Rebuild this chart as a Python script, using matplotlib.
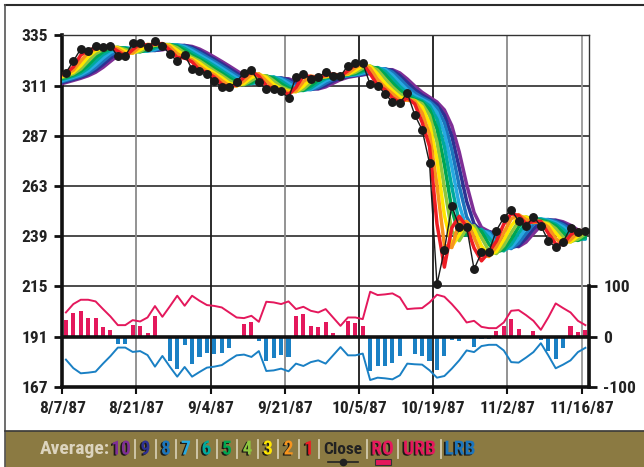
import numpy as np
import matplotlib
matplotlib.use('Agg')
import matplotlib.pyplot as plt
import matplotlib.patheffects as pe
from matplotlib import font_manager as fm
from matplotlib.colors import LinearSegmentedColormap

# ---------------- data ----------------
DATE_LABELS = ['8/7/87', '8/21/87', '9/4/87', '9/21/87', '10/5/87', '10/19/87', '11/2/87', '11/16/87']
DATE_IDX = [0, 10, 20, 30, 40, 50, 60, 70]

CLOSE = [317.2, 322.7, 328.6, 327.6, 330.2, 329.4, 329.9, 325.1, 325.2, 331.2,
         331.2, 329.4, 332.4, 329.9, 326.2, 322.7, 325.9, 318.8, 318.0, 316.8,
         313.3, 310.2, 310.2, 312.9, 317.1, 318.5, 312.6, 309.2, 309.2, 308.3,
         305.1, 315.2, 316.4, 314.4, 315.0, 317.6, 315.6, 315.6, 320.6, 321.7,
         321.7, 311.6, 311.0, 307.2, 303.2, 302.7, 307.5, 297.1, 289.9, 273.9,
         216.0, 232.4, 253.5, 243.5, 243.5, 223.2, 231.2, 231.5, 241.7, 247.8,
         251.6, 246.3, 243.7, 248.3, 243.9, 236.9, 233.6, 236.3, 243.0, 240.9, 241.5]

# state of close and of averages 1..10 on the session before 8/7/87 (read at left edge)
PRIOR_STATE = [316.5, 316.0, 315.5, 315.0, 314.5, 314.0, 313.5, 313.0, 312.5, 312.0, 311.5]

RO = [32.7, 46.7, 50.7, 36.0, 36.0, 18.0, 12.7, -15.3, -15.3, 22.7,
      20.7, 6.7, 40.7, -2.0, -48.7, -64.0, -16.7, -55.3, -40.7, -33.3,
      -35.3, -32.7, -23.3, -2.0, 24.0, 29.3, -8.7, -48.7, -43.3, -37.3,
      -41.3, 40.7, 44.7, 20.7, 18.7, 29.3, 6.7, 1.0, 30.7, 26.7,
      20.7, -68.7, -58.7, -58.7, -53.3, -38.7, -2.0, -34.7, -38.7, -48.7,
      -66.7, -38.7, -6.7, -8.7, -2.0, -20.7, -5.3, -4.0, 10.7, 20.7,
      34.7, 14.7, -1.0, 10.7, -6.7, -28.7, -44.7, -23.3, 20.7, 8.7, 12.7]

URB = [48.0, 64.7, 73.3, 73.3, 70.0, 54.7, 40.0, 22.7, 22.7, 32.7,
       30.0, 38.0, 60.7, 39.3, 60.0, 81.3, 61.3, 81.3, 71.3, 62.7,
       61.0, 58.0, 48.0, 38.0, 36.7, 41.3, 29.3, 69.3, 68.0, 64.7,
       70.0, 54.7, 59.3, 51.3, 48.0, 54.7, 38.0, 21.3, 38.0, 38.0,
       34.7, 89.3, 82.7, 84.0, 86.0, 78.0, 54.7, 56.0, 56.7, 68.0,
       83.3, 79.3, 64.7, 48.0, 28.0, 31.3, 19.3, 16.7, 16.7, 28.0,
       51.3, 52.7, 42.7, 31.3, 13.3, 38.0, 66.0, 56.7, 48.0, 31.3, 22.7]

LRB = [-46.0, -63.0, -73.3, -72.0, -70.0, -54.0, -39.0, -22.0, -22.0, -30.7,
       -29.0, -37.0, -60.0, -38.7, -60.0, -80.0, -60.7, -80.0, -70.7, -62.0,
       -60.0, -57.0, -47.0, -37.5, -36.0, -40.7, -29.0, -68.7, -67.5, -64.0,
       -69.3, -54.0, -58.7, -51.0, -47.5, -54.0, -37.5, -21.0, -37.5, -37.5,
       -34.0, -86.7, -82.0, -83.3, -85.3, -77.3, -54.0, -55.3, -56.0, -67.3,
       -82.0, -78.7, -64.0, -47.5, -27.7, -31.0, -19.0, -16.5, -16.5, -27.7,
       -51.0, -52.0, -42.0, -31.0, -13.3, -37.5, -63.3, -56.0, -47.5, -31.0, -22.5]

LEFT_TICKS = [335, 311, 287, 263, 239, 215, 191, 167]
RIGHT_TICKS = [-100, 0, 100]
LEGEND_NUMS = ['10', '9', '8', '7', '6', '5', '4', '3', '2', '1']

# ---------------- styles ----------------
AVG_COLORS = ['#ED1C24', '#F7941D', '#FFE600', '#8DC63F', '#00A651',
              '#00A99D', '#27AAE1', '#1C75BC', '#2E3192', '#7F2F96']
RED = '#E4185C'
BLUE = '#1A80C4'


def _has(fam):
    try:
        fm.findfont(fm.FontProperties(family=fam, weight='bold'), fallback_to_default=False)
        return True
    except Exception:
        return False


NARROW = None
for cand in ['Liberation Sans Narrow', 'Roboto Condensed', 'DejaVu Sans Condensed',
             'Open Sans Condensed', 'Noto Sans Condensed']:
    if _has(cand):
        NARROW = cand
        break
if NARROW:
    FONT = [NARROW, 'DejaVu Sans']
    TSIZE, LSIZE = 12.5, 14
else:
    FONT = ['Liberation Sans', 'DejaVu Sans']
    TSIZE, LSIZE = 11, 11.5

W, H = 644, 467
fig = plt.figure(figsize=(W / 100, H / 100), dpi=100)

# background
bg = fig.add_axes([0, 0, 1, 1], zorder=-10)
bg.set_xlim(0, W)
bg.set_ylim(H, 0)
bg.axis('off')
bg.add_patch(plt.Rectangle((0, 0), W, H, color='white'))
stops = [(0.0, '#1590CD'), (0.07, '#1A91CD'), (0.18, '#3A99D2'), (0.37, '#6DA9DA'),
         (0.58, '#95BDE1'), (0.77, '#B8D2EC'), (0.95, '#DAE6F4'), (1.0, '#E9EFF9')]
cmap = LinearSegmentedColormap.from_list('bgrad', stops)
grad = np.linspace(0, 1, 400).reshape(-1, 1)
bg.imshow(grad, cmap=cmap, aspect='auto', extent=[5, W, 431, 5], interpolation='bilinear')
bg.add_patch(plt.Rectangle((5, 431), W - 5, H - 431, color='#8B7A42'))
bg.plot([5, W], [5, 5], color='#2b2b2b', lw=1.5)
bg.plot([5, 5], [5, H], color='#555555', lw=1.2)
bg.plot([5, W], [431, 431], color='#3a3a3a', lw=1.2)

# main axes
L, R, T, B = 62.2, 589.5, 35.5, 386.7
ax = fig.add_axes([L / W, 1 - B / H, (R - L) / W, (B - T) / H])
ax.set_facecolor('white')
n = len(CLOSE)
xs = np.arange(n) + 0.5
ax.set_xlim(0, (R - L) / 7.421)
ax.set_ylim(167, 335)

# grid
for yv in LEFT_TICKS[1:-2]:
    ax.axhline(yv, color='#1a1a1a', lw=1.1, zorder=1)
vcols = ['#1a1a1a', '#8a8a8a', '#1a1a1a', '#8a8a8a', '#1a1a1a', '#1a1a1a', '#8a8a8a', '#9a9a9a']
for xi, c in zip(DATE_IDX[1:], vcols[1:]):
    ax.axvline(xi, color=c, lw=1.3, zorder=1)

# rainbow averages (recursive 2-period averages of close)
series = [np.array([PRIOR_STATE[0]] + CLOSE, float)]
for k in range(1, 11):
    prev = series[-1]
    a = np.empty(n + 1)
    a[0] = PRIOR_STATE[k]
    a[1:] = (prev[1:] + prev[:-1]) / 2.0
    series.append(a)
xa = np.arange(-1, n) + 0.5
for k in range(10, 0, -1):
    ax.plot(xa, series[k], color=AVG_COLORS[k - 1], lw=2.5, solid_joinstyle='round',
            solid_capstyle='round', zorder=3)

ax.plot(xs, CLOSE, color='#1a1a1a', lw=1.0, zorder=4)
ax.plot(xs, CLOSE, 'o', color='#1a1a1a', ms=5.4, zorder=5)

# oscillator on right scale
ax2 = ax.twinx()
ax2.set_ylim(-100, 600)
ro = np.array(RO)
ax2.bar(xs, ro, width=0.55, color=np.where(ro >= 0, RED, BLUE), zorder=3)
ax2.plot(xs, URB, color=RED, lw=1.4, zorder=4)
ax2.plot(xs, LRB, color=BLUE, lw=1.4, zorder=4)
ax2.axhline(0, color='#111111', lw=2.6, zorder=5)

# spines
for s in ['top', 'right']:
    ax.spines[s].set_color('#333333')
    ax.spines[s].set_linewidth(1.0)
for s in ['left', 'bottom']:
    ax.spines[s].set_color('#111111')
    ax.spines[s].set_linewidth(2.6)
for s in ['top', 'left', 'bottom']:
    ax2.spines[s].set_visible(False)
ax2.spines['right'].set_color('#111111')
ax2.spines['right'].set_linewidth(2.6)
ax2.spines['right'].set_bounds(-100, 100)

tick_font = dict(family=FONT, weight='bold', size=TSIZE, color='#222222')
ax.set_yticks(LEFT_TICKS)
ax.set_yticklabels([str(v) for v in LEFT_TICKS], fontdict=tick_font)
ax.set_xticks(DATE_IDX)
ax.set_xticklabels(DATE_LABELS, fontdict=tick_font)
ax.tick_params(axis='y', length=6, width=2, color='#111111', pad=4)
ax.tick_params(axis='x', length=5, width=1.5, color='#111111', pad=5)
ax2.set_yticks(RIGHT_TICKS)
ax2.set_yticklabels([str(v) for v in RIGHT_TICKS], fontdict=tick_font)
ax2.tick_params(axis='y', length=6, width=2, color='#111111', pad=4)

# legend bar
ly = 449.5
shadow = [pe.SimplePatchShadow(offset=(-1.2, -0.8), shadow_rgbFace='#111111', alpha=0.9), pe.Normal()]
lfont = dict(family=FONT, weight='bold', size=LSIZE, ha='center', va='center')
bg.text(110, ly, 'Average:', color='#DCD4BE', **{**lfont, 'ha': 'right'})
num_x = [121, 145.5, 166, 186, 206.5, 227, 247.5, 268, 288.5, 309]
for lab, xv, c in zip(LEGEND_NUMS, num_x, AVG_COLORS[::-1]):
    bg.text(xv, ly, lab, color=c, path_effects=shadow, **lfont)
bg.text(343, ly, 'Close', color='#222222', **{**lfont, 'size': LSIZE - 1.5})
bg.plot([328, 358], [462, 462], color='#222222', lw=1.2)
bg.plot([343], [462], 'o', color='#222222', ms=4.5)
bg.text(382.5, ly, 'RO', color=RED, path_effects=shadow, **lfont)
bg.add_patch(plt.Rectangle((375, 459), 16, 6, facecolor=RED, edgecolor='#333333', lw=0.8))
bg.text(419.5, ly, 'URB', color=RED, path_effects=shadow, **lfont)
bg.text(460, ly, 'LRB', color='#1C75BC', path_effects=shadow, **lfont)
for sx in [135, 156, 176, 197, 217, 237, 258, 278, 299, 319, 367, 398, 441]:
    bg.plot([sx, sx], [440, 458], color='#D4CBAE', lw=1.3)

fig.savefig('out.png', dpi=100)
